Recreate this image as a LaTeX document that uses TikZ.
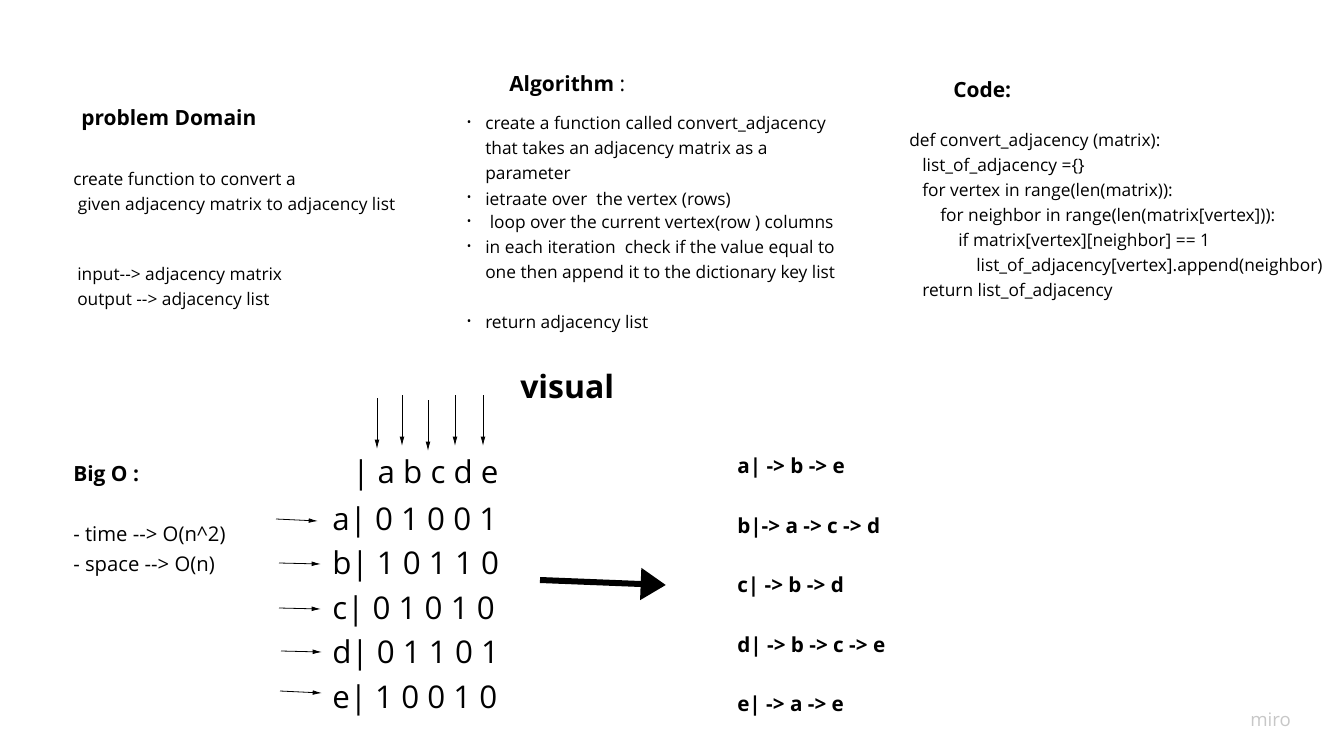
\documentclass[tikz,border=0pt]{standalone}
\usepackage{fontspec}
\setmainfont{Open Sans}
\usetikzlibrary{arrows.meta}
\newcommand{\dd}{-\kern0pt-}

\begin{document}
\begin{tikzpicture}[x=0.75pt, y=-0.75pt,
  txt/.style={anchor=west, inner sep=0pt, align=left, font=\fontsize{13}{18.75}\selectfont},
  head/.style={anchor=west, inner sep=0pt, font=\fontsize{15.7}{20}\selectfont\bfseries},
  dot/.style={anchor=center, inner sep=0pt, font=\fontsize{9}{10}\selectfont},
  mat/.style={anchor=west, inner sep=0pt, font=\fontsize{23.5}{28}\selectfont},
  lst/.style={anchor=west, inner sep=0pt, font=\fontsize{15.5}{18}\selectfont\bfseries},
  ptr/.style={-{Latex[length=7pt,width=3.5pt]}, line width=0.6pt}]
\useasboundingbox (0,0) rectangle (1323,755);

% problem domain
\node[head] (pd) at (81,120) {problem Domain};
\node[txt] (pdtext) at (73,193.5) {create function to convert a\\\ given adjacency matrix to adjacency list};
\node[txt] (io) at (77,288.5) {input\dd> adjacency matrix\\output \dd> adjacency list};

% algorithm
\node[head] (alg) at (509,86) {Algorithm \textmd{:}};
\node[txt] (alg1) at (485,150) {create a function called convert\_adjacency\\that takes an adjacency matrix as a\\parameter};
\node[txt] (alg2) at (485,200) {ietraate over\ \ the vertex (rows)};
\node[txt] (alg3) at (485,224) {\ loop over the current vertex(row ) columns};
\node[txt] (alg4) at (485,261.5) {in each iteration\ \ check if the value equal to\\one then append it to the dictionary key list};
\node[txt] (alg5) at (485,324) {return adjacency list};
\foreach \y [count=\i] in {124,199,223,248,323}
  \node[dot] (bul\i) at (469,\y) {\textbullet};

% code
\node[head] (code) at (953,90) {Code:};
\node[txt] (src) at (909,216.5) {def convert\_adjacency (matrix):\\
\hspace*{9.75pt}list\_of\_adjacency =\{\}\\
\hspace*{9.75pt}for vertex in range(len(matrix)):\\
\hspace*{23.25pt}for neighbor in range(len(matrix[vertex])):\\
\hspace*{36.75pt}if matrix[vertex][neighbor] == 1\\
\hspace*{50.25pt}list\_of\_adjacency[vertex].append(neighbor)\\
\hspace*{9.75pt}return list\_of\_adjacency};

% visual
\node[anchor=west, inner sep=0pt, font=\fontsize{24}{28}\selectfont\bfseries] (vis) at (520,386) {visual};
\node[head] (bigo) at (73,476) {Big O :};
\node[txt, font=\fontsize{15.2}{22.5}\selectfont] (cost) at (73,551) {- time \dd> O(n\textasciicircum 2)\\- space \dd> O(n)};

% matrix
\node[mat] (hdr) at (352,475) {| a b c d e};
\node[mat] (ra) at (332,522) {a| 0 1 0 0 1};
\node[mat] (rb) at (332,566) {b| 1 0 1 1 0};
\node[mat] (rc) at (332,611) {c| 0 1 0 1 0};
\node[mat] (rd) at (332,655) {d| 0 1 1 0 1};
\node[mat] (re) at (332,700) {e| 1 0 0 1 0};

\foreach \x/\a/\b [count=\i] in {377/398/449, 402/395/446, 428/400/451, 455/395/446, 483/395/446} {
  \coordinate (ct\i) at (\x,\a);
  \coordinate (cb\i) at (\x,\b);
  \draw[ptr] (ct\i) -- (cb\i);
}
\foreach \x/\a/\b/\c [count=\i] in {276/519/318/521, 279/563/321/564, 279/608/321/609, 281/651/322/652, 280/691/322/693} {
  \coordinate (rs\i) at (\x,\a);
  \coordinate (re\i) at (\b,\c);
  \draw[ptr] (rs\i) -- (re\i);
}

\coordinate (bigs) at (540,580);
\coordinate (bige) at (666,585);
\draw[line width=4.5pt, -{Triangle[length=19pt,width=23pt]}] (bigs) -- (bige);

% adjacency list
\node[lst] (la) at (737,468) {a| -> b -> e};
\node[lst] (lb) at (737,528) {b|-> a -> c -> d};
\node[lst] (lc) at (737,587) {c| -> b -> d};
\node[lst] (ld) at (737,647) {d| -> b -> c -> e};
\node[lst] (le) at (737,706) {e| -> a -> e};

\node[anchor=west, inner sep=0pt, text=black!22, font=\fontsize{14}{16}\selectfont] (miro) at (1250,720) {miro};
\end{tikzpicture}
\end{document}
